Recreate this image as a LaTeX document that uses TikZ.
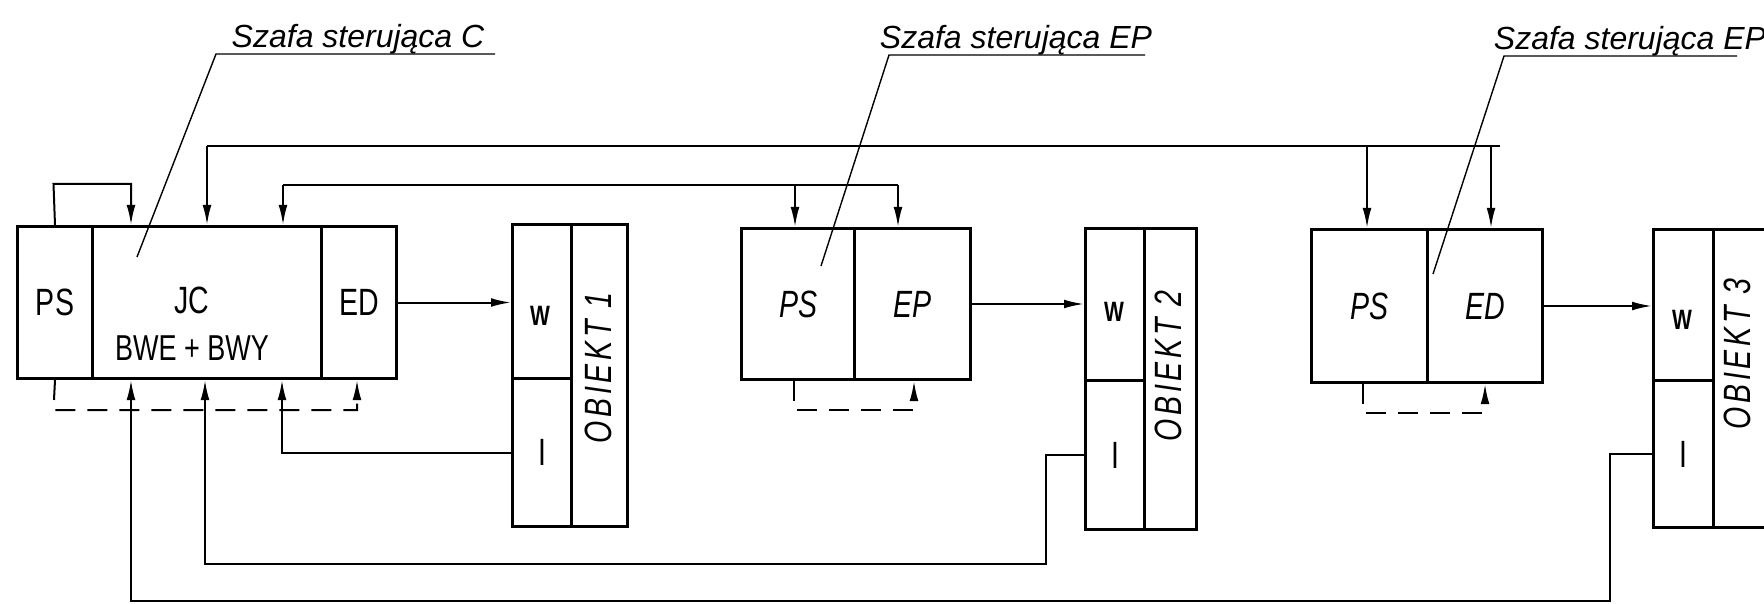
\documentclass[tikz,border=0pt]{standalone}
\usepackage{fontspec}
\setmainfont{Liberation Sans}
\newfontfamily\boxfont[FakeStretch=0.75]{Liberation Sans}
\newfontfamily\objfont[FakeStretch=0.75,LetterSpace=10]{Liberation Sans}
\usetikzlibrary{arrows.meta}

\begin{document}
\begin{tikzpicture}[x=0.5pt, y=-0.5pt,
    cell/.style={draw, line width=1.5pt, inner sep=0pt, anchor=north west,
        minimum height=76pt, font=\boxfont\fontsize{19}{22}\selectfont},
    slanted/.style={font=\boxfont\itshape\fontsize{19}{22}\selectfont},
    txt/.style={inner sep=0pt, font=\boxfont\fontsize{19}{22}\selectfont},
    wtxt/.style={inner sep=0pt, font=\boxfont\bfseries\fontsize{14}{16}\selectfont},
    objtxt/.style={inner sep=0pt, rotate=90, font=\objfont\itshape\fontsize{19}{22}\selectfont},
    lbl/.style={inner sep=0pt, anchor=base, font=\itshape\fontsize{16}{19}\selectfont},
    conn/.style={line width=1pt},
    arr/.style={-{Latex[length=10pt,width=4.4pt]}},
    dashln/.style={conn, dash pattern=on 10pt off 6pt},
    leader/.style={line width=0.7pt}]
    \useasboundingbox (0,0) rectangle (1764,604);

    % --- ШКАФ УПРАВЛЕНИЯ C ---
    \node[cell, minimum width=37.5pt] (PSc) at (16,225) {PS};
    \node[cell, minimum width=114.5pt] (JC) at (91,225) {};
    \node[cell, minimum width=37.5pt] (EDc) at (320,225) {ED};
    \node[txt] (jct) at (192,300) {JC};
    \node[txt, font=\boxfont\fontsize{18}{21}\selectfont] (bwt) at (192,348) {BWE + BWY};

    % --- ОБЪЕКТ 1 ---
    \node[cell, minimum width=29.5pt, minimum height=77pt] (W1) at (511,223) {};
    \node[cell, minimum width=29.5pt, minimum height=74pt] (I1) at (511,377) {I};
    \node[cell, minimum width=28pt, minimum height=151pt] (O1) at (570,223) {};
    \node[wtxt] (w1t) at (540,316) {W};
    \node[objtxt] (o1t) at (598,368) {OBIEKT 1};

    % --- ШКАФ УПРАВЛЕНИЯ EP (средний) ---
    \node[cell, slanted, minimum width=56.5pt, minimum height=75.5pt] (PS2) at (740,227) {PS};
    \node[cell, slanted, minimum width=58pt, minimum height=75.5pt] (EP2) at (853,227) {EP};

    % --- ОБЪЕКТ 2 ---
    \node[cell, minimum width=29.5pt, minimum height=76pt] (W2) at (1084,227) {};
    \node[cell, minimum width=29.5pt, minimum height=74.5pt] (I2) at (1084,379) {I};
    \node[cell, minimum width=26pt, minimum height=150.5pt] (O2) at (1143,227) {};
    \node[wtxt] (w2t) at (1114,312) {W};
    \node[objtxt] (o2t) at (1168,366) {OBIEKT 2};

    % --- ШКАФ УПРАВЛЕНИЯ EP (правый) ---
    \node[cell, slanted, minimum width=58pt, minimum height=76.5pt] (PS3) at (1310,228) {PS};
    \node[cell, slanted, minimum width=57.5pt, minimum height=76.5pt] (ED3) at (1426,228) {ED};

    % --- ОБЪЕКТ 3 ---
    \node[cell, minimum width=30pt, minimum height=75.5pt] (W3) at (1652,228) {};
    \node[cell, minimum width=30pt, minimum height=73.5pt] (I3) at (1652,379) {I};
    \node[cell, minimum width=28pt, minimum height=149pt] (O3) at (1712,228) {};
    \node[wtxt] (w3t) at (1682,320) {W};
    \node[objtxt] (o3t) at (1737,354) {OBIEKT 3};

    % --- ВЕРХНИЕ ШИНЫ ---
    % Связь PS -> JC
    \draw[conn, arr] (PSc.north) -- (53.5,184) -| (131,0 |- JC.north);
    % Длинная шина к правому шкафу
    \coordinate (busA) at (207,146);
    \coordinate (busAend) at (1500,146);
    \draw[conn] (busA) -- (busAend);
    \foreach \x/\n in {207/JC, 1367/PS3, 1491/ED3}
        \draw[conn, arr] (\x,146) -- (\x,0 |- \n.north);
    % Шина к среднему шкафу
    \coordinate (busB) at (283,185);
    \coordinate (busBend) at (898,185);
    \draw[conn] (busB) -- (busBend);
    \foreach \x/\n in {283/JC, 795/PS2, 898/EP2}
        \draw[conn, arr] (\x,185) -- (\x,0 |- \n.north);

    % --- ПУНКТИРНЫЕ СВЯЗИ PS -> ED ---
    \draw[dashln, arr] (PSc.south) -- (53.5,410) -| (357,0 |- EDc.south);
    \draw[dashln, arr] (794,0 |- PS2.south) -- (794,410) -| (914,0 |- EP2.south);
    \draw[dashln, arr] (1363,0 |- PS3.south) -- (1363,413) -| (1485,0 |- ED3.south);

    % --- ВЫХОДЫ НА ОБЪЕКТЫ ---
    \draw[conn, arr] (EDc.east) -- (EDc.east -| W1.west);
    \draw[conn, arr] (EP2.east) -- (EP2.east -| W2.west);
    \draw[conn, arr] (ED3.east) -- (ED3.east -| W3.west);

    % --- ОБРАТНЫЕ СВЯЗИ ОТ I ---
    \draw[conn, arr] (I1.west) -| (282,0 |- JC.south);
    \draw[conn, arr] (I2.west) -| (1046,564) -| (205,0 |- JC.south);
    \draw[conn, arr] (I3.west) -| (1610,601) -| (131,0 |- JC.south);

    % --- ПОДПИСИ ШКАФОВ ---
    \node[lbl] (lblC) at (358,48) {Szafa sterująca C};
    \coordinate (uC1) at (216,54);
    \coordinate (uC2) at (495,54);
    \coordinate (pC) at (137,257);
    \draw[leader] (pC) -- (uC1) -- (uC2);

    \node[lbl] (lblE) at (1016,49) {Szafa sterująca EP};
    \coordinate (uE1) at (889,55);
    \coordinate (uE2) at (1145,55);
    \coordinate (pE) at (821,266);
    \draw[leader] (pE) -- (uE1) -- (uE2);

    \node[lbl] (lblF) at (1630,50) {Szafa sterująca EP};
    \coordinate (uF1) at (1504,56);
    \coordinate (uF2) at (1737,56);
    \coordinate (pF) at (1433,274);
    \draw[leader] (pF) -- (uF1) -- (uF2);
\end{tikzpicture}
\end{document}
